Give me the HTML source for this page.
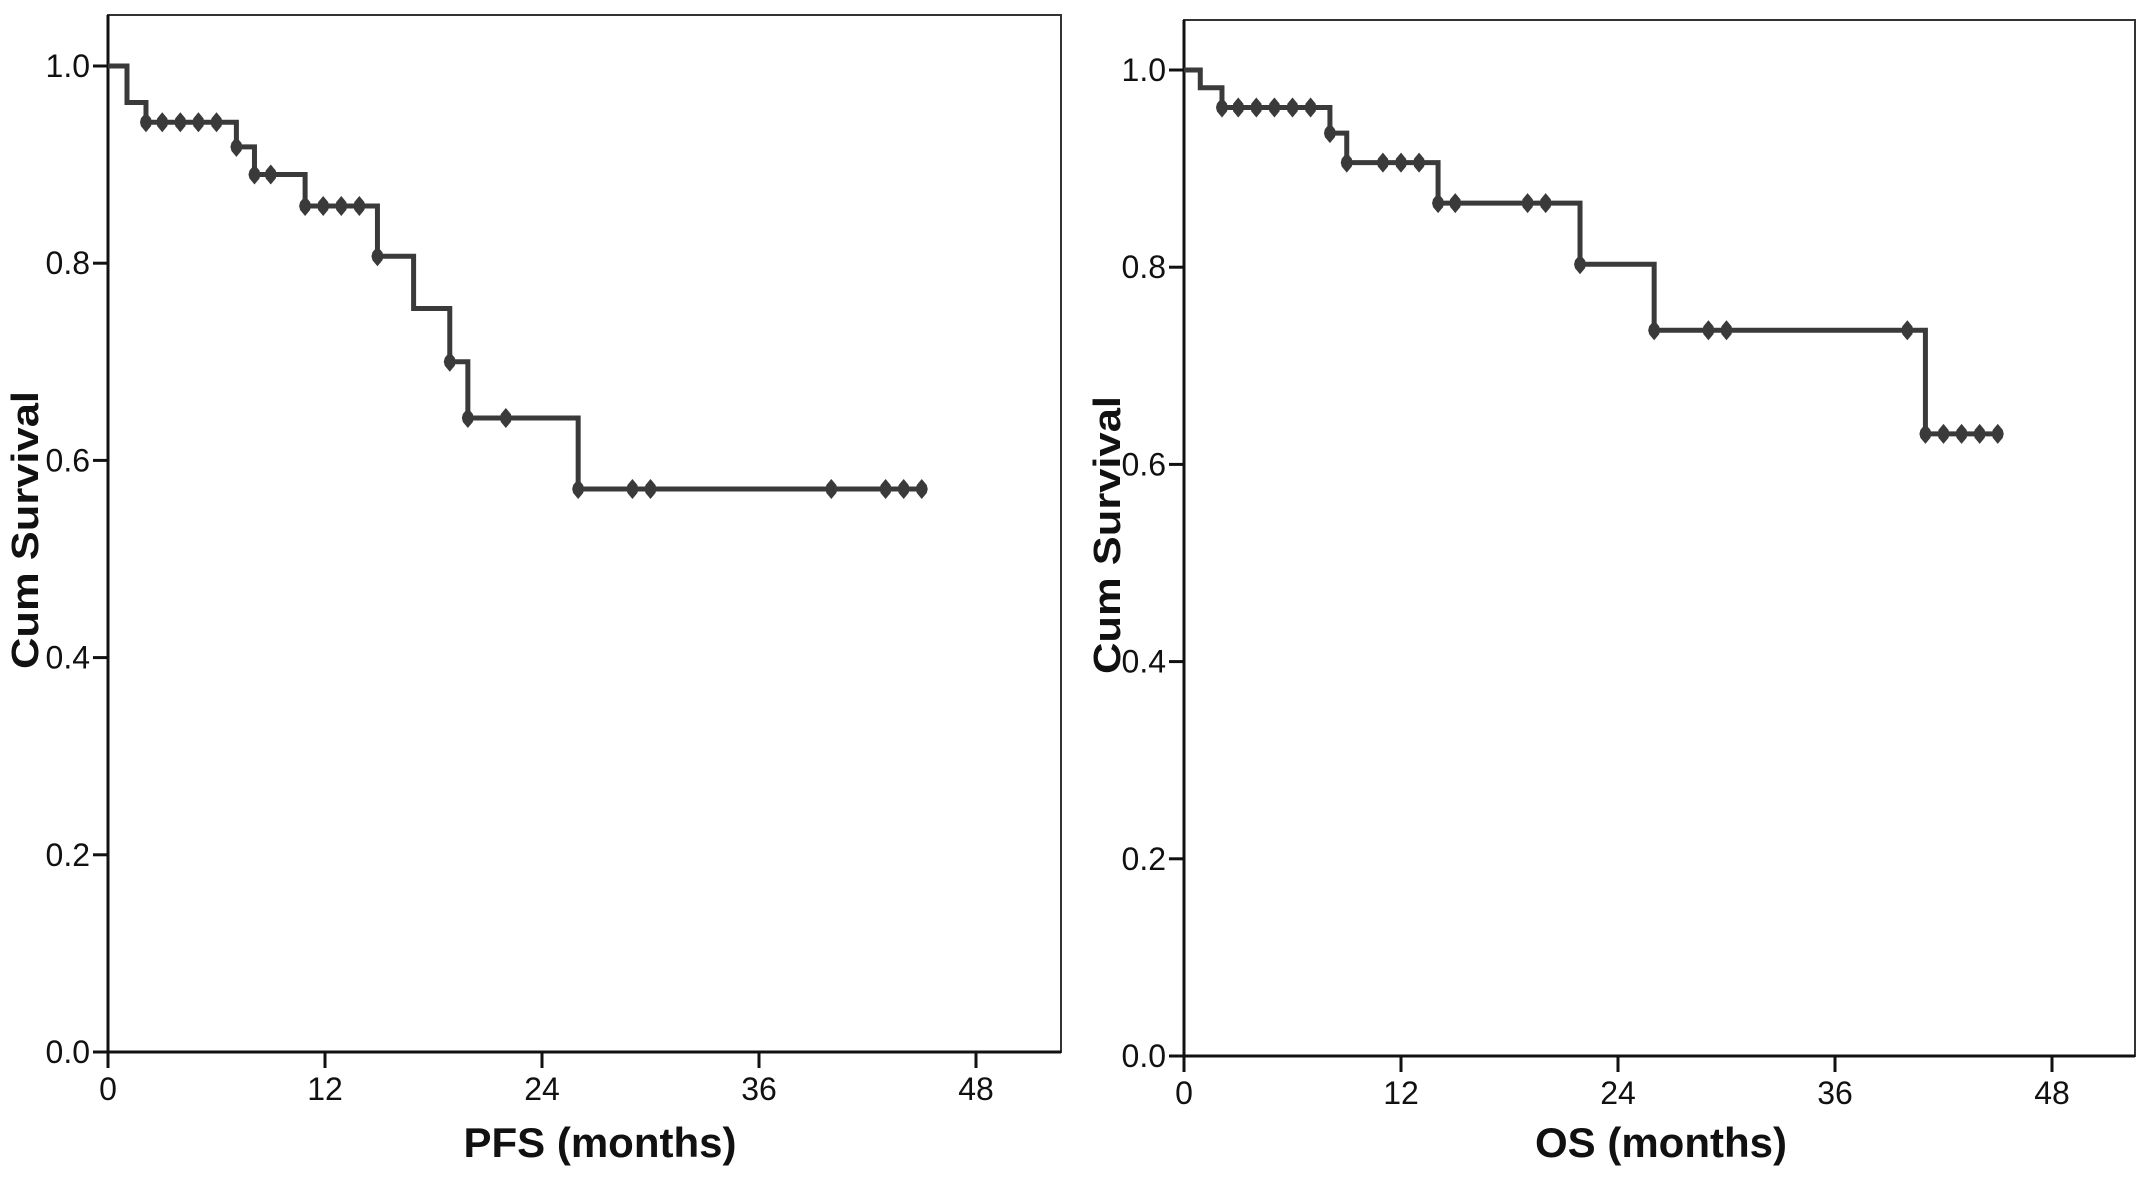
<!DOCTYPE html>
<html><head><meta charset="utf-8"><style>
html,body{margin:0;padding:0;background:#fff;}
svg{display:block;font-family:"Liberation Sans",sans-serif;}
</style></head><body>
<svg id="chart" width="2150" height="1178" viewBox="0 0 2150 1178" xmlns="http://www.w3.org/2000/svg"></svg>
<script>
// PFS panel data
const pfsTimes = [0, 1.05, 2.1, 7.1, 8.1, 10.9, 14.9, 16.9, 18.9, 19.9, 26, 45];
const pfsSurv  = [1.0, 0.963, 0.943, 0.918, 0.890, 0.858, 0.807, 0.754, 0.700, 0.643, 0.571, 0.571];
const pfsCensor = [2.1, 3, 4, 5, 6, 7.1, 8.1, 9, 10.9, 11.9, 12.9, 13.9, 14.9, 18.9, 19.9, 22, 26, 29, 30, 40, 43, 44, 45];
// OS panel data
const osTimes = [0, 0.9, 2.1, 8.07, 9.0, 14.05, 21.9, 26, 41, 45];
const osSurv  = [1.0, 0.982, 0.962, 0.936, 0.906, 0.865, 0.803, 0.736, 0.631, 0.631];
const osCensor = [2.1, 3, 4, 5, 6, 7, 8.07, 9, 11, 12, 13, 14.05, 15, 19, 20, 21.9, 26, 29, 30, 40, 41, 42, 43, 44, 45];
// Axis ticks
const xTicks = [0, 12, 24, 36, 48];
const yTicks = [0.0, 0.2, 0.4, 0.6, 0.8, 1.0];
const yTickLabels = ["0.0", "0.2", "0.4", "0.6", "0.8", "1.0"];

const NS = "http://www.w3.org/2000/svg";
const svg = document.getElementById('chart');
function mk(tag, attrs, parent) {
  const e = document.createElementNS(NS, tag);
  for (const k in attrs) e.setAttribute(k, attrs[k]);
  (parent || svg).appendChild(e);
  return e;
}

function panel(cfg) {
  const g = mk('g', {});
  
  
  const x = t => cfg.x0 + (t / 48) * (cfg.x48 - cfg.x0);
  const y = v => cfg.y0 - v * (cfg.y0 - cfg.y1);
  const fr = mk('rect', {x: cfg.x0, y: cfg.top, width: cfg.right - cfg.x0, height: cfg.y0 - cfg.top, fill: 'none', stroke: '#333', 'stroke-width': 2}, g);
  
  
  const ya = mk('line', {x1: cfg.x0, y1: cfg.top, x2: cfg.x0, y2: cfg.y0 + 16, stroke: '#111', 'stroke-width': 3}, g);
  
  
  const xa = mk('line', {x1: cfg.x0 - 15, y1: cfg.y0, x2: cfg.right, y2: cfg.y0, stroke: '#111', 'stroke-width': 3}, g);
  
  
  yTicks.forEach((v, i) => {
    const tk = mk('line', {x1: cfg.x0 - 15, y1: y(v), x2: cfg.x0, y2: y(v), stroke: '#111', 'stroke-width': 3}, g);
    
    
    const tl = mk('text', {x: cfg.x0 - 18, y: y(v) + 11, 'text-anchor': 'end', 'font-size': 32, fill: '#111'}, g);
    tl.textContent = yTickLabels[i];
    
    
  });
  xTicks.forEach(t => {
    const tk = mk('line', {x1: x(t), y1: cfg.y0, x2: x(t), y2: cfg.y0 + 16, stroke: '#111', 'stroke-width': 3}, g);
    
    
    const tl = mk('text', {x: x(t), y: cfg.y0 + 48, 'text-anchor': 'middle', 'font-size': 32, fill: '#111'}, g);
    tl.textContent = String(t);
    
    
  });
  let d = `M${x(cfg.times[0])},${y(cfg.surv[0])}`;
  for (let i = 1; i < cfg.times.length; i++) {
    d += ` H${x(cfg.times[i])} V${y(cfg.surv[i])}`;
  }
  const p = mk('path', {d: d, fill: 'none', stroke: '#3a3a3a', 'stroke-width': 5, 'stroke-linejoin': 'miter'}, g);
  
  
  const survAt = t => { let s = cfg.surv[0]; for (let i = 0; i < cfg.times.length; i++) { if (cfg.times[i] <= t + 1e-9) s = cfg.surv[i]; } return s; };
  cfg.censor.forEach(t => {
    const cx = x(t), cy = y(survAt(t));
    const m = mk('path', {d: `M${cx},${cy-10} L${cx+5},${cy-4} L${cx+6},${cy} L${cx+5},${cy+4} L${cx},${cy+10} L${cx-5},${cy+4} L${cx-6},${cy} L${cx-5},${cy-4} Z`, fill: '#3a3a3a'}, g);
    
    
  });
  const xt = mk('text', {x: cfg.xTitleX, y: 1157, 'text-anchor': 'middle', 'font-size': 42, 'font-weight': 'bold', fill: '#111'}, g);
  xt.textContent = cfg.xTitle;
  
  
  const yt = mk('text', {x: 0, y: 0, 'text-anchor': 'middle', 'font-size': 38, 'font-weight': 'bold', fill: '#111', textLength: 278, lengthAdjust: 'spacingAndGlyphs', transform: `translate(${cfg.yTitleX},${cfg.yTitleY}) rotate(-90)`}, g);
  yt.textContent = 'Cum Survival';
  
  
}

panel({name: 'pfs-panel', x0: 108, x48: 976, right: 1061, top: 15, y0: 1052, y1: 66,
  times: pfsTimes, surv: pfsSurv, censor: pfsCensor, xTitle: 'PFS (months)', xTitleX: 600, yTitleX: 38, yTitleY: 530});
panel({name: 'os-panel', x0: 1184, x48: 2052, right: 2135, top: 20, y0: 1056, y1: 70,
  times: osTimes, surv: osSurv, censor: osCensor, xTitle: 'OS (months)', xTitleX: 1661, yTitleX: 1120, yTitleY: 535});
</script>
</body></html>
